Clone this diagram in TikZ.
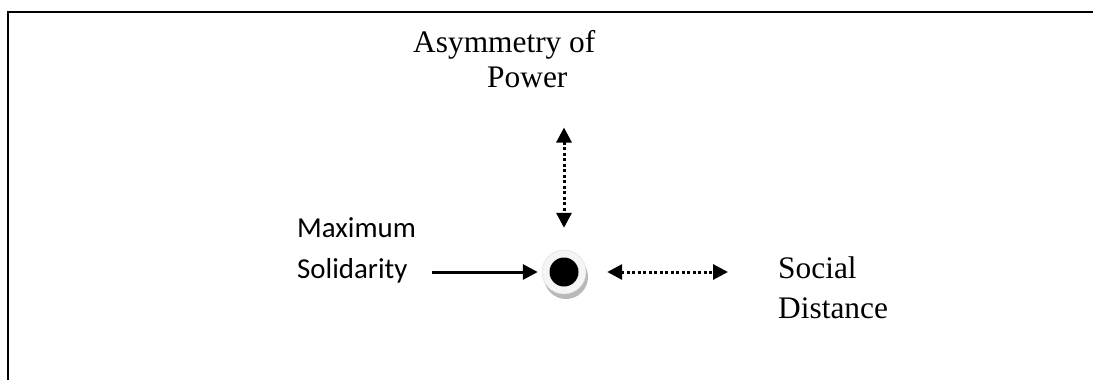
\documentclass[tikz,border=0pt]{standalone}
\usepackage{fontspec}
\setmainfont{Liberation Serif}
\newfontfamily\calibri{Carlito}
\usepackage{tikz}
\usetikzlibrary{calc, positioning, arrows.meta, shadows}

\begin{document}
\begin{tikzpicture}[x=1bp, y=-1bp,
    serif/.style={inner sep=0pt, anchor=base west, font=\fontsize{31.5}{35}\selectfont},
    sans/.style={inner sep=0pt, anchor=base west, font=\calibri\fontsize{29}{41}\selectfont},
    solidarr/.style={line width=3bp, -{Triangle[length=15bp, width=15bp]}},
    dotarr/.style={line width=3bp, dash pattern=on 3bp off 2.5bp,
      {Triangle[length=15bp, width=15bp]}-{Triangle[length=15bp, width=15bp]}},
    ring/.style={circle, minimum size=44bp, inner sep=0pt, fill=gray!8, draw=gray!30,
      drop shadow={shadow xshift=2bp, shadow yshift=-5bp, fill=gray!55, opacity=1}},
    dot/.style={circle, minimum size=29bp, inner sep=0pt, fill=black}]
  \useasboundingbox (0,0) rectangle (1093,380);
  % frame
  \draw[line width=2bp] (8,380) -- (8,11.5) -- (1093,11.5);

  % labels
  \node[serif] (asym) at (413,52) {Asymmetry of};
  \node[serif] (power) at (487,87) {Power};
  \node[sans] (maxim) at (297,237) {Maximum};
  \node[sans] (solid) at (297,278) {Solidarity};
  \node[serif] (social) at (778,278) {Social};
  \node[serif] (dist) at (778,318) {Distance};

  % centre point
  \node[ring] (hub) at (564,272) {};
  \node[dot] (core) at (hub) {};

  % arrows
  \draw[solidarr, shorten <=24bp, shorten >=4bp] (solid.east |- hub) -- (hub.west);
  \draw[dotarr, shorten <=21bp, shorten >=50bp] (hub.east) -- (social.west |- hub);
  \draw[dotarr, shorten <=40bp, shorten >=22bp] (power.south -| hub) -- (hub.north);
\end{tikzpicture}
\end{document}
